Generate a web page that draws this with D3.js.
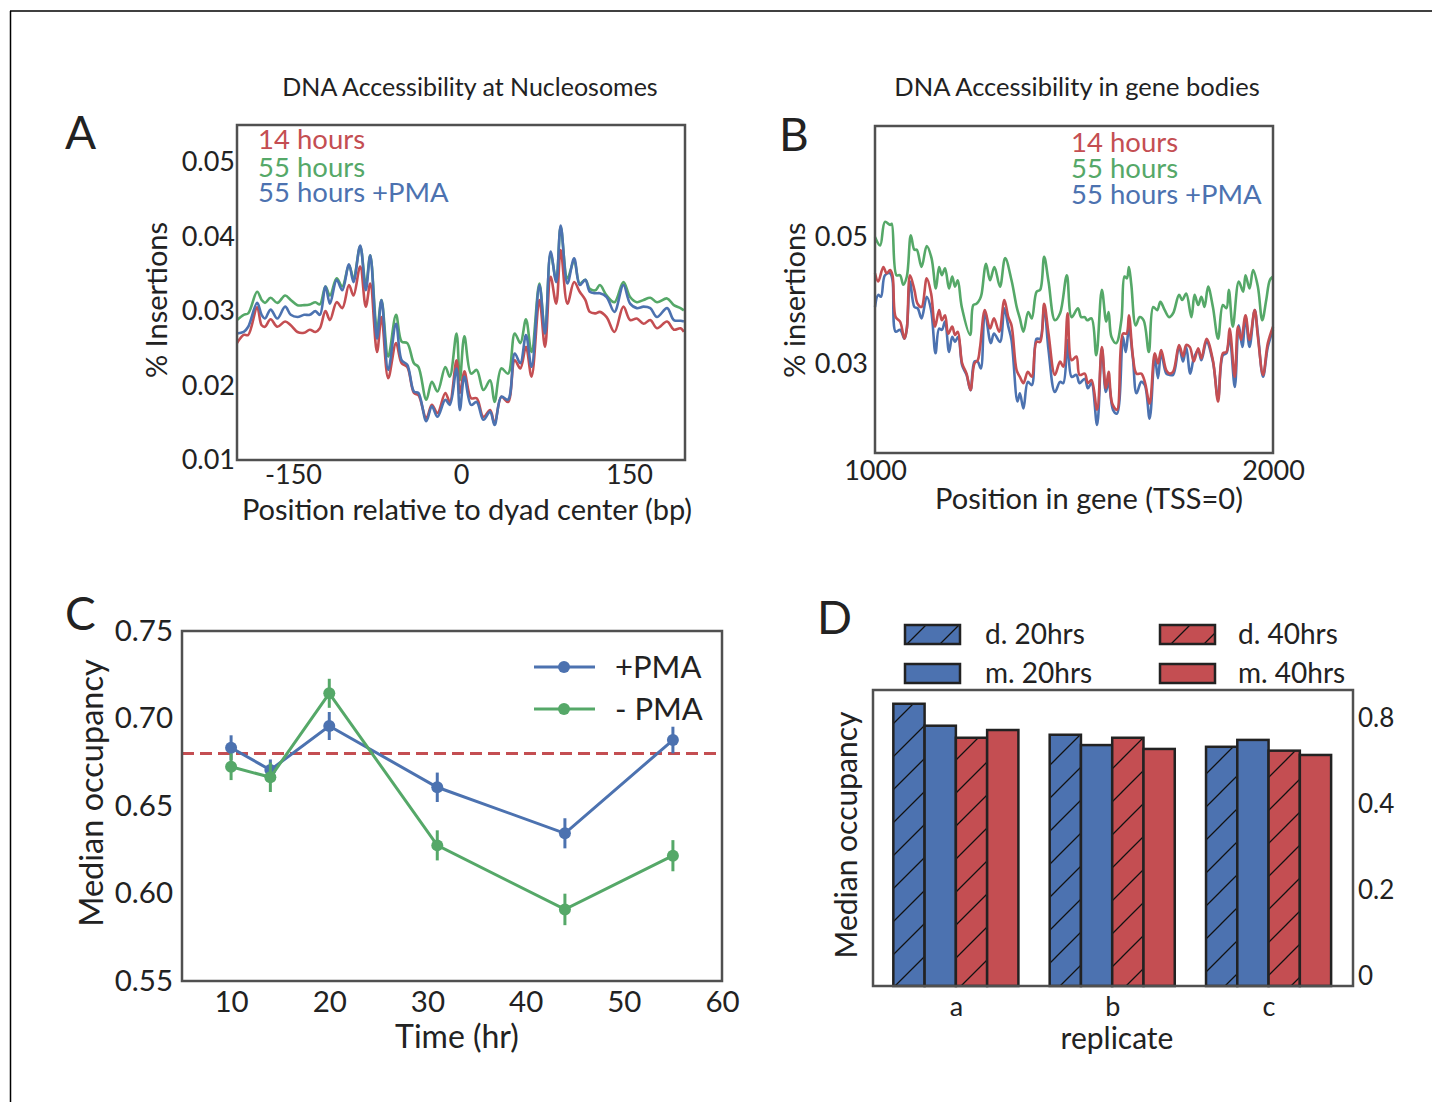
<!DOCTYPE html>
<html>
<head>
<meta charset="utf-8">
<script src="https://d3js.org/d3.v7.min.js"></script>
<style>
  body { margin: 0; background: #fff; }
  text { font-family: "Lato", "Open Sans", sans-serif; }
</style>
</head>
<body>
<div id="chart"></div>
<script>
// ---------- data ----------
// Panel A: insertions around the nucleosome dyad (bp, % insertions)
var posA = [-200,-194,-190,-182,-178,-175,-170,-164,-157,-152,-146,-140,-135,-130,-126,-121,-117,-111,-106,-100,
  -96,-90,-85,-81,-75,-71,-65,-58,-53,-48,-42,-38,-31,-26,-21,-14,-10,-4,
  -1,3,9,14,20,26,30,36,42,48,53,58,63,70,75,80,85,89,95,101,106,111,115,120,124,130,137,145,151,157,163,169,175,184,190,196,199];
var a14h = [0.0257,0.0268,0.0268,0.0305,0.0281,0.0279,0.0289,0.0279,0.0286,0.0281,0.0272,0.0271,0.0275,0.0272,0.0277,0.0300,0.0288,0.0312,0.0304,0.0335,
  0.0321,0.0360,0.0306,0.0337,0.0245,0.0292,0.0210,0.0257,0.0230,0.0225,0.0190,0.0187,0.0156,0.0174,0.0163,0.0190,0.0178,0.0234,
  0.0190,0.0219,0.0183,0.0183,0.0158,0.0167,0.0149,0.0185,0.0178,0.0234,0.0223,0.0252,0.0212,0.0315,0.0252,0.0346,0.0310,0.0382,0.0310,0.0339,
  0.0326,0.0315,0.0299,0.0297,0.0299,0.0292,0.0272,0.0306,0.0288,0.0290,0.0283,0.0288,0.0277,0.0286,0.0275,0.0277,0.0272];
var a55h = [0.0288,0.0295,0.0297,0.0326,0.0315,0.0311,0.0318,0.0311,0.0321,0.0315,0.0308,0.0308,0.0309,0.0312,0.0309,0.0333,0.0321,0.0344,0.0333,0.0362,
  0.0344,0.0387,0.0335,0.0375,0.0275,0.0315,0.0239,0.0295,0.0259,0.0257,0.0230,0.0225,0.0181,0.0205,0.0192,0.0225,0.0212,0.0270,
  0.0207,0.0266,0.0216,0.0221,0.0194,0.0207,0.0178,0.0223,0.0216,0.0270,0.0257,0.0289,0.0245,0.0337,0.0270,0.0377,0.0342,0.0413,0.0344,0.0368,
  0.0337,0.0342,0.0330,0.0328,0.0335,0.0321,0.0312,0.0339,0.0319,0.0312,0.0315,0.0318,0.0312,0.0317,0.0308,0.0304,0.0301];
var a55pma = [0.0270,0.0272,0.0279,0.0311,0.0295,0.0290,0.0302,0.0290,0.0306,0.0295,0.0292,0.0295,0.0295,0.0300,0.0295,0.0333,0.0310,0.0342,0.0328,0.0363,
  0.0339,0.0388,0.0328,0.0375,0.0263,0.0315,0.0221,0.0283,0.0234,0.0228,0.0192,0.0190,0.0152,0.0172,0.0158,0.0181,0.0174,0.0223,
  0.0167,0.0212,0.0174,0.0178,0.0154,0.0165,0.0147,0.0185,0.0181,0.0243,0.0230,0.0268,0.0225,0.0335,0.0270,0.0380,0.0339,0.0415,0.0337,0.0371,
  0.0335,0.0342,0.0326,0.0324,0.0324,0.0319,0.0299,0.0335,0.0310,0.0304,0.0306,0.0304,0.0292,0.0304,0.0288,0.0287,0.0286];

// Panel B: insertions in gene bodies, [position, % insertions]
var b14h = [[1000,0.0443],[1008,0.0430],[1021,0.0453],[1029,0.0443],[1038,0.0448],[1044,0.0440],[1052,0.0374],[1063,0.0367],[1074,0.0340],[1080,0.0356],
  [1088,0.0440],[1099,0.0417],[1107,0.0395],[1117,0.0390],[1130,0.0435],[1141,0.0411],[1151,0.0359],[1161,0.0385],[1168,0.0369],[1176,0.0377],
  [1184,0.0348],[1194,0.0359],[1201,0.0346],[1208,0.0351],[1219,0.0301],[1230,0.0285],[1240,0.0259],[1250,0.0301],[1258,0.0306],[1264,0.0327],
  [1276,0.0385],[1289,0.0356],[1299,0.0372],[1312,0.0351],[1325,0.0401],[1335,0.0374],[1343,0.0361],[1356,0.0290],[1364,0.0280],[1373,0.0270],
  [1384,0.0288],[1394,0.0280],[1406,0.0335],[1415,0.0335],[1425,0.0395],[1436,0.0348],[1452,0.0283],[1465,0.0304],[1473,0.0296],[1484,0.0380],
  [1494,0.0306],[1506,0.0312],[1514,0.0283],[1527,0.0285],[1535,0.0270],[1544,0.0275],[1558,0.0228],[1570,0.0327],[1580,0.0262],[1587,0.0288],
  [1596,0.0238],[1608,0.0228],[1623,0.0348],[1632,0.0348],[1638,0.0377],[1648,0.0312],[1657,0.0285],[1669,0.0285],[1678,0.0272],[1690,0.0238],
  [1703,0.0317],[1711,0.0301],[1719,0.0322],[1732,0.0290],[1740,0.0285],[1749,0.0288],[1764,0.0330],[1774,0.0312],[1782,0.0330],[1791,0.0327],
  [1801,0.0304],[1812,0.0325],[1820,0.0309],[1833,0.0340],[1849,0.0306],[1862,0.0241],[1874,0.0317],[1883,0.0319],[1891,0.0356],[1904,0.0280],
  [1912,0.0359],[1920,0.0338],[1931,0.0377],[1941,0.0338],[1954,0.0385],[1962,0.0343],[1975,0.0283],[1987,0.0333],[2000,0.0359]];
var b55h = [[1000,0.0500],[1013,0.0487],[1025,0.0524],[1038,0.0519],[1042,0.0521],[1054,0.0440],[1063,0.0440],[1071,0.0425],[1080,0.0438],[1090,0.0503],
  [1099,0.0480],[1105,0.0480],[1117,0.0453],[1130,0.0486],[1142,0.0467],[1153,0.0419],[1161,0.0453],[1168,0.0440],[1176,0.0451],[1186,0.0419],
  [1194,0.0438],[1201,0.0422],[1208,0.0432],[1218,0.0390],[1239,0.0346],[1247,0.0393],[1255,0.0395],[1264,0.0403],[1268,0.0411],[1279,0.0458],
  [1289,0.0432],[1300,0.0453],[1314,0.0422],[1327,0.0467],[1343,0.0432],[1356,0.0390],[1364,0.0372],[1373,0.0351],[1385,0.0382],[1394,0.0372],
  [1406,0.0414],[1415,0.0417],[1425,0.0469],[1436,0.0430],[1452,0.0369],[1465,0.0380],[1482,0.0440],[1494,0.0374],[1510,0.0388],[1518,0.0374],
  [1527,0.0374],[1533,0.0369],[1544,0.0372],[1556,0.0314],[1570,0.0417],[1581,0.0367],[1587,0.0382],[1594,0.0343],[1606,0.0333],[1619,0.0369],
  [1627,0.0438],[1633,0.0435],[1638,0.0453],[1644,0.0425],[1655,0.0361],[1665,0.0374],[1675,0.0369],[1688,0.0319],[1699,0.0390],[1709,0.0385],
  [1717,0.0398],[1728,0.0385],[1739,0.0374],[1749,0.0380],[1764,0.0409],[1772,0.0401],[1782,0.0411],[1795,0.0374],[1803,0.0409],[1812,0.0393],
  [1820,0.0406],[1828,0.0390],[1837,0.0422],[1849,0.0390],[1862,0.0340],[1874,0.0393],[1883,0.0388],[1889,0.0417],[1899,0.0359],[1914,0.0430],
  [1925,0.0414],[1931,0.0440],[1941,0.0419],[1950,0.0448],[1962,0.0422],[1973,0.0369],[1983,0.0401],[1992,0.0432],[2000,0.0438]];
var b55pma = [[1000,0.0390],[1008,0.0409],[1015,0.0406],[1025,0.0440],[1038,0.0443],[1044,0.0432],[1052,0.0351],[1063,0.0354],[1074,0.0340],[1080,0.0356],
  [1088,0.0430],[1099,0.0390],[1107,0.0388],[1117,0.0372],[1130,0.0406],[1141,0.0385],[1152,0.0317],[1161,0.0356],[1168,0.0354],[1176,0.0367],
  [1186,0.0319],[1194,0.0343],[1201,0.0335],[1209,0.0343],[1219,0.0298],[1230,0.0283],[1240,0.0259],[1250,0.0304],[1258,0.0304],[1266,0.0293],
  [1276,0.0382],[1291,0.0333],[1299,0.0348],[1314,0.0335],[1325,0.0388],[1335,0.0359],[1343,0.0338],[1358,0.0241],[1364,0.0254],[1373,0.0230],
  [1384,0.0272],[1394,0.0267],[1406,0.0340],[1415,0.0340],[1425,0.0390],[1436,0.0322],[1452,0.0256],[1465,0.0272],[1473,0.0270],[1484,0.0338],
  [1494,0.0280],[1506,0.0283],[1514,0.0270],[1527,0.0277],[1535,0.0262],[1544,0.0270],[1558,0.0204],[1570,0.0325],[1580,0.0256],[1587,0.0272],
  [1598,0.0228],[1608,0.0222],[1623,0.0343],[1630,0.0319],[1638,0.0356],[1648,0.0309],[1657,0.0254],[1669,0.0272],[1678,0.0267],[1690,0.0214],
  [1703,0.0312],[1711,0.0278],[1719,0.0317],[1732,0.0285],[1740,0.0283],[1749,0.0283],[1764,0.0327],[1774,0.0304],[1782,0.0327],[1792,0.0285],
  [1801,0.0309],[1812,0.0322],[1820,0.0306],[1833,0.0335],[1849,0.0304],[1862,0.0246],[1874,0.0314],[1883,0.0317],[1891,0.0343],[1904,0.0264],
  [1914,0.0361],[1923,0.0327],[1931,0.0374],[1941,0.0327],[1954,0.0385],[1962,0.0348],[1975,0.0280],[1987,0.0327],[2000,0.0354]];

// Panel C: median occupancy over time
var timesC = [10, 14, 20, 31, 44, 55];
var plusPMA = [0.6833, 0.6706, 0.6957, 0.6607, 0.6344, 0.6877];
var plusPMAerr = [0.0071, 0.0060, 0.0080, 0.0084, 0.0086, 0.0076];
var minusPMA = [0.6724, 0.6664, 0.7144, 0.6275, 0.5909, 0.6216];
var minusPMAerr = [0.0076, 0.0084, 0.0083, 0.0086, 0.0090, 0.0089];
var refLineC = 0.680;

// Panel D: median occupancy per replicate
var replicates = ["a", "b", "c"];
var seriesD = ["d. 20hrs", "m. 20hrs", "d. 40hrs", "m. 40hrs"];
var d20 = [0.656, 0.584, 0.556];
var m20 = [0.605, 0.560, 0.572];
var d40 = [0.577, 0.577, 0.547];
var m40 = [0.595, 0.551, 0.537];
var yTicksD = [0, 0.2, 0.4, 0.6];
var yTickLabelsD = ["0", "0.2", "0.4", "0.8"];

// colours (seaborn deep)
var blue = "#4C72B0", green = "#55A868", red = "#C44E52";
var spine = "#505050";
var ink = "#222";

// ---------- svg ----------
var svg = d3.select("#chart").append("svg")
  .attr("width", 1432)
  .attr("height", 1102);

// hatch pattern for the "d." bars
svg.append("defs").append("pattern")
  .attr("id", "hatch")
  .attr("patternUnits", "userSpaceOnUse")
  .attr("width", 33).attr("height", 33)
  .append("path")
  .attr("d", "M0,33 L33,0 M-4,4 L4,-4 M29,37 L37,29")
  .attr("stroke", "#111").attr("stroke-width", 1.3);

// figure frame (top + left rule)
svg.append("line").attr("x1", 10).attr("y1", 11).attr("x2", 1432).attr("y2", 11)
  .attr("stroke", "#000").attr("stroke-width", 1.5);
svg.append("line").attr("x1", 10.5).attr("y1", 11).attr("x2", 10.5).attr("y2", 1102)
  .attr("stroke", "#000").attr("stroke-width", 1.5);

// small helper: strip the axis down to labels only
function cleanAxis(g, size) {
  g.select(".domain").remove();
  g.selectAll("line").remove();
  g.selectAll("text").attr("font-size", size).attr("fill", ink)
    .attr("font-family", "Lato, 'Open Sans', sans-serif");
}

function panelBox(x0, x1, y0, y1) {
  svg.append("rect").attr("x", x0).attr("y", y0)
    .attr("width", x1 - x0).attr("height", y1 - y0)
    .attr("fill", "none").attr("stroke", spine).attr("stroke-width", 2.5);
}

function label(txt, x, y, size, anchor, rotate) {
  var t = svg.append("text").text(txt)
    .attr("font-size", size)
    .attr("fill", ink)
    .attr("text-anchor", anchor || "middle");
  if (rotate) t.attr("transform", "translate(" + x + "," + y + ") rotate(-90)");
  else t.attr("x", x).attr("y", y);
  return t;
}

// ---------- Panel A ----------
var xA = d3.scaleLinear().domain([-200, 200]).range([237, 685]);
var yA = d3.scaleLinear().domain([0.01, 0.055]).range([460, 125]);
var lineA = d3.line().curve(d3.curveCatmullRom.alpha(0.5))
  .x(function(d) { return xA(d[0]); })
  .y(function(d) { return yA(d[1]); });

[[a55h, green], [a14h, red], [a55pma, blue]].forEach(function(s) {
  svg.append("path")
    .datum(posA.map(function(p, i) { return [p, s[0][i]]; }))
    .attr("d", lineA)
    .attr("fill", "none").attr("stroke", s[1]).attr("stroke-width", 2.6);
});
panelBox(237, 685, 125, 460);

svg.append("g").attr("transform", "translate(237,0)")
  .call(d3.axisLeft(yA).tickValues([0.01, 0.02, 0.03, 0.04, 0.05]).tickSize(0).tickPadding(2).tickFormat(d3.format(".2f")))
  .call(cleanAxis, 27);
svg.append("g").attr("transform", "translate(0,460)")
  .call(d3.axisBottom(xA).tickValues([-150, 0, 150]).tickSize(0).tickPadding(5).tickFormat(function(d) { return String(d); }))
  .call(cleanAxis, 27);

label("DNA Accessibility at Nucleosomes", 470, 96, 25);
label("A", 65, 149, 46, "start");
label("Position relative to dyad center (bp)", 467, 520, 29);
label("% Insertions", 167, 300, 29, "middle", true);
label("14 hours", 258, 149, 27.5, "start").attr("fill", red);
label("55 hours", 258, 177, 27.5, "start").attr("fill", green);
label("55 hours +PMA", 258, 202, 27.5, "start").attr("fill", blue);

// ---------- Panel B ----------
var xB = d3.scaleLinear().domain([1000, 2000]).range([875, 1273]);
var yB = d3.scaleLinear().domain([0.016, 0.0675]).range([453, 126]);
var lineB = d3.line().curve(d3.curveCatmullRom.alpha(0.5))
  .x(function(d) { return xB(d[0]); })
  .y(function(d) { return yB(d[1]); });

[[b55h, green], [b55pma, blue], [b14h, red]].forEach(function(s) {
  svg.append("path").datum(s[0]).attr("d", lineB)
    .attr("fill", "none").attr("stroke", s[1]).attr("stroke-width", 2.6);
});
panelBox(875, 1273, 126, 453);

svg.append("g").attr("transform", "translate(875,0)")
  .call(d3.axisLeft(yB).tickValues([0.03, 0.05]).tickSize(0).tickPadding(7).tickFormat(d3.format(".2f")))
  .call(cleanAxis, 27);
svg.append("g").attr("transform", "translate(0,453)")
  .call(d3.axisBottom(xB).tickValues([1000, 2000]).tickSize(0).tickPadding(8).tickFormat(function(d) { return String(d); }))
  .call(cleanAxis, 27);

label("DNA Accessibility in gene bodies", 1077, 96, 25.5);
label("B", 779, 151, 46, "start");
label("Position in gene (TSS=0)", 1089, 509, 29);
label("% insertions", 805, 300, 29, "middle", true);
label("14 hours", 1071, 152, 27.5, "start").attr("fill", red);
label("55 hours", 1071, 178, 27.5, "start").attr("fill", green);
label("55 hours +PMA", 1071, 204, 27.5, "start").attr("fill", blue);

// ---------- Panel C ----------
var xC = d3.scaleLinear().domain([5, 60]).range([182, 722]);
var yC = d3.scaleLinear().domain([0.55, 0.75]).range([981, 631]);

svg.append("line")
  .attr("x1", xC(5)).attr("x2", xC(60))
  .attr("y1", yC(refLineC)).attr("y2", yC(refLineC))
  .attr("stroke", red).attr("stroke-width", 3).attr("stroke-dasharray", "12,6");

function drawSeriesC(vals, errs, col) {
  var pts = timesC.map(function(t, i) { return [t, vals[i], errs[i]]; });
  svg.append("path").datum(pts)
    .attr("d", d3.line().x(function(d) { return xC(d[0]); }).y(function(d) { return yC(d[1]); }))
    .attr("fill", "none").attr("stroke", col).attr("stroke-width", 3);
  svg.selectAll(null).data(pts).enter().append("line")
    .attr("x1", function(d) { return xC(d[0]); }).attr("x2", function(d) { return xC(d[0]); })
    .attr("y1", function(d) { return yC(d[1] - d[2]); }).attr("y2", function(d) { return yC(d[1] + d[2]); })
    .attr("stroke", col).attr("stroke-width", 3);
  svg.selectAll(null).data(pts).enter().append("circle")
    .attr("cx", function(d) { return xC(d[0]); }).attr("cy", function(d) { return yC(d[1]); })
    .attr("r", 6).attr("fill", col);
}
drawSeriesC(plusPMA, plusPMAerr, blue);
drawSeriesC(minusPMA, minusPMAerr, green);
panelBox(182, 722, 631, 981);

svg.append("g").attr("transform", "translate(182,0)")
  .call(d3.axisLeft(yC).tickValues([0.55, 0.60, 0.65, 0.70, 0.75]).tickSize(0).tickPadding(9).tickFormat(d3.format(".2f")))
  .call(cleanAxis, 29.5);
svg.append("g").attr("transform", "translate(0,981)")
  .call(d3.axisBottom(xC).tickValues([10, 20, 30, 40, 50, 60]).tickSize(0).tickPadding(10).tickFormat(d3.format("d")))
  .call(cleanAxis, 29.5);

label("C", 65, 630, 46, "start");
label("Time (hr)", 457, 1048, 32);
label("Median occupancy", 103, 793, 32.5, "middle", true);

// legend C
[["+PMA", blue, 667], ["- PMA", green, 709]].forEach(function(l) {
  svg.append("line").attr("x1", 534).attr("x2", 595).attr("y1", l[2]).attr("y2", l[2])
    .attr("stroke", l[1]).attr("stroke-width", 3);
  svg.append("circle").attr("cx", 564).attr("cy", l[2]).attr("r", 6).attr("fill", l[1]);
  label(l[0], 615, l[2] + 11, 31, "start");
});

// ---------- Panel D ----------
var xD = d3.scaleLinear().domain([-0.53, 2.54]).range([873, 1353]);
var yD = d3.scaleLinear().domain([0, 0.688]).range([986, 690]);
var barW = xD(0.2) - xD(0);
var barSets = [[d20, blue, true], [m20, blue, false], [d40, red, true], [m40, red, false]];

barSets.forEach(function(s, k) {
  replicates.forEach(function(r, g) {
    var x = xD(g - 0.4 + k * 0.2);
    var y = yD(s[0][g]);
    svg.append("rect").attr("x", x).attr("y", y).attr("width", barW).attr("height", yD(0) - y)
      .attr("fill", s[1]);
    if (s[2]) {
      svg.append("rect").attr("x", x).attr("y", y).attr("width", barW).attr("height", yD(0) - y)
        .attr("fill", "url(#hatch)");
    }
    svg.append("rect").attr("x", x).attr("y", y).attr("width", barW).attr("height", yD(0) - y)
      .attr("fill", "none").attr("stroke", "#222").attr("stroke-width", 2.5);
  });
});
panelBox(873, 1353, 690, 986);

svg.append("g").attr("transform", "translate(1353,0)")
  .call(d3.axisRight(yD).tickValues(yTicksD).tickSize(0).tickPadding(5)
    .tickFormat(function(d, i) { return yTickLabelsD[i]; }))
  .call(cleanAxis, 26)
  .selectAll("text").attr("dy", "-0.06em");
svg.append("g").attr("transform", "translate(0,986)")
  .call(d3.axisBottom(d3.scalePoint().domain(replicates).range([xD(0), xD(2)])).tickSize(0).tickPadding(11))
  .call(cleanAxis, 27);

label("D", 817, 634, 46, "start");
label("replicate", 1117, 1049, 30);
label("Median occupancy", 857, 835, 30, "middle", true);

// legend D: two columns, hatched on the first row
var legPos = [[905, 625, 985], [905, 664, 985], [1160, 625, 1238], [1160, 664, 1238]];
seriesD.forEach(function(name, k) {
  var p = legPos[k];
  var s = barSets[k];
  svg.append("rect").attr("x", p[0]).attr("y", p[1]).attr("width", 55).attr("height", 19).attr("fill", s[1]);
  if (s[2]) svg.append("rect").attr("x", p[0]).attr("y", p[1]).attr("width", 55).attr("height", 19).attr("fill", "url(#hatch)");
  svg.append("rect").attr("x", p[0]).attr("y", p[1]).attr("width", 55).attr("height", 19)
    .attr("fill", "none").attr("stroke", "#222").attr("stroke-width", 2.5);
  label(name, p[2], p[1] + 19, 28, "start");
});
</script>
</body>
</html>
